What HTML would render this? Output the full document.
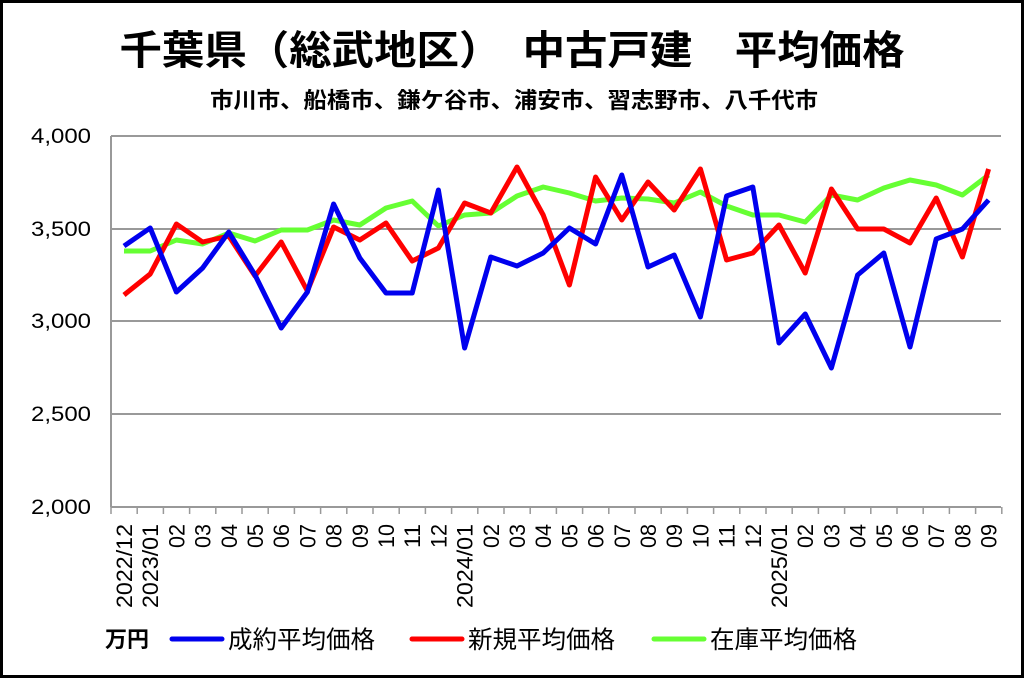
<!DOCTYPE html>
<html><head><meta charset="utf-8"><style>
body{margin:0;background:#fff}
svg text{font-family:"Liberation Sans","Noto Sans CJK JP",sans-serif}
</style></head><body>
<svg width="1024" height="678" viewBox="0 0 1024 678" xmlns="http://www.w3.org/2000/svg">
<rect x="1.5" y="1.5" width="1021" height="675" fill="#fff" stroke="#000" stroke-width="3"/>
<text x="512" y="64" text-anchor="middle" font-size="40" font-weight="bold" textLength="785" lengthAdjust="spacingAndGlyphs">千葉県（総武地区）　中古戸建　平均価格</text>
<text x="514" y="108" text-anchor="middle" font-size="22" font-weight="bold" textLength="608" lengthAdjust="spacingAndGlyphs">市川市、船橋市、鎌ケ谷市、浦安市、習志野市、八千代市</text>
<g stroke="#999" stroke-width="2">
<line x1="111" y1="136" x2="1001" y2="136"/>
<line x1="111" y1="229" x2="1001" y2="229"/>
<line x1="111" y1="321" x2="1001" y2="321"/>
<line x1="111" y1="414" x2="1001" y2="414"/>
<line x1="111" y1="507" x2="1001" y2="507"/>
<line x1="111" y1="136" x2="111" y2="507"/>
</g>
<g font-size="21" text-anchor="end">
<text x="91" y="143" textLength="60" lengthAdjust="spacingAndGlyphs">4,000</text>
<text x="91" y="236" textLength="60" lengthAdjust="spacingAndGlyphs">3,500</text>
<text x="91" y="328" textLength="60" lengthAdjust="spacingAndGlyphs">3,000</text>
<text x="91" y="421" textLength="60" lengthAdjust="spacingAndGlyphs">2,500</text>
<text x="91" y="514" textLength="60" lengthAdjust="spacingAndGlyphs">2,000</text>
</g>
<g id="ticks" stroke="#999" stroke-width="1.5"></g>
<g id="xl" font-size="22" text-anchor="end"></g>
<polyline id="g" fill="none" stroke="#66ff33" stroke-width="5" stroke-linejoin="round"/>
<polyline id="r" fill="none" stroke="#ff0000" stroke-width="5" stroke-linejoin="round"/>
<polyline id="b" fill="none" stroke="#0000ee" stroke-width="5" stroke-linejoin="round"/>
<text x="105" y="647" font-size="22" font-weight="bold">万円</text>
<line x1="172" y1="639" x2="222" y2="639" stroke="#0000ee" stroke-width="5" stroke-linecap="round"/>
<text x="228" y="648" font-size="24.5">成約平均価格</text>
<line x1="412" y1="639" x2="462" y2="639" stroke="#ff0000" stroke-width="5" stroke-linecap="round"/>
<text x="468" y="648" font-size="24.5">新規平均価格</text>
<line x1="654" y1="639" x2="704" y2="639" stroke="#66ff33" stroke-width="5" stroke-linecap="round"/>
<text x="710" y="648" font-size="24.5">在庫平均価格</text>
</svg>
<script>
var B=[246,228,292,268,232,275,328,292,204,258,293,293,190,348,257,266,253,228,244,175,267,255,317,196,187,343,314,368,275,253,347,239,229,200];
var R=[295,274,224,242,236,276,242,291,227,240,223,261,248,203,213,167,215,285,177,220,182,210,169,260,253,225,273,189,229,229,243,198,257,169];
var G=[251,251,240,244,233,241,230,230,220,225,208,201,226,215,213,196,187,193,201,198,199,203,192,206,215,215,222,195,200,188,180,185,195,175];
function X(i){return 124+26.2*i}
function pts(a){return a.map(function(y,i){return X(i).toFixed(1)+","+y}).join(" ")}
document.getElementById("b").setAttribute("points",pts(B));
document.getElementById("r").setAttribute("points",pts(R));
document.getElementById("g").setAttribute("points",pts(G));
var ns="http://www.w3.org/2000/svg",t=document.getElementById("ticks"),xl=document.getElementById("xl");
for(var k=0;k<=34;k++){var l=document.createElementNS(ns,"line");var x=111+26.2*k;l.setAttribute("x1",x);l.setAttribute("x2",x);l.setAttribute("y1",507);l.setAttribute("y2",514);t.appendChild(l);}
var lab=["2022/12","2023/01","02","03","04","05","06","07","08","09","10","11","12","2024/01","02","03","04","05","06","07","08","09","10","11","12","2025/01","02","03","04","05","06","07","08","09"];
lab.forEach(function(s,i){var e=document.createElementNS(ns,"text");var x=X(i)+8;e.setAttribute("transform","translate("+x+",524) rotate(-90)");e.setAttribute("textLength",s.length>2?84:24);e.setAttribute("lengthAdjust","spacingAndGlyphs");e.textContent=s;xl.appendChild(e);});
</script>
</body></html>
